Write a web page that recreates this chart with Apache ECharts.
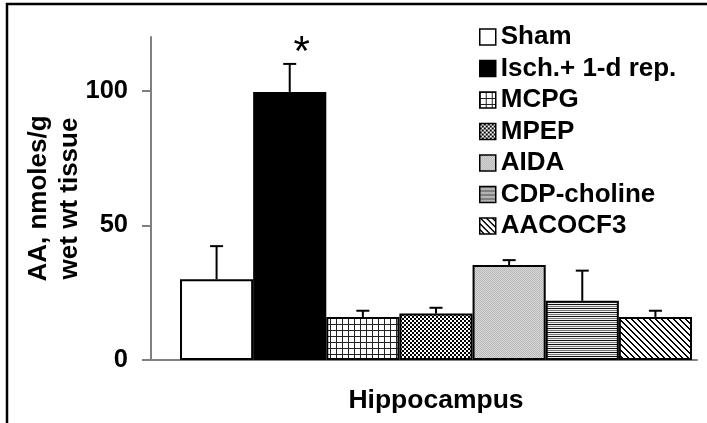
<!DOCTYPE html>
<html>
<head>
<meta charset="utf-8">
<script src="https://cdn.jsdelivr.net/npm/echarts@6/dist/echarts.min.js"></script>
<style>
html,body{margin:0;padding:0;background:#fff;}
#chart{width:707px;height:423px;}
</style>
</head>
<body>
<div id="chart"></div>
<script>
// ---- data ----
const category = ['Hippocampus'];
const groupNames = ['Sham', 'Isch.+ 1-d rep.', 'MCPG', 'MPEP', 'AIDA', 'CDP-choline', 'AACOCF3'];
const meanValues = [30, 99.6, 16, 17.3, 35.3, 22, 16];
const semValues = [12.3, 10.4, 2.3, 2.1, 1.8, 11.2, 2.3];
const significance = ['', '*', '', '', '', '', ''];
const yTicks = [0, 50, 100];
const yTitle = 'AA, nmoles/g\nwet wt tissue';

// ---- styles ----
const FONT = "'Liberation Sans', Arial, sans-serif";
const GAP = 0.0554;

function makePattern(size, draw) {
  const c = document.createElement('canvas');
  c.width = size; c.height = size;
  const ctx = c.getContext('2d');
  draw(ctx, size);
  return { image: c, repeat: 'repeat' };
}
function px(ctx, x, y, col) { ctx.fillStyle = col; ctx.fillRect(x, y, 1, 1); }

const fills = [
  '#ffffff',
  '#000000',
  makePattern(6, (ctx, s) => { // grid
    ctx.fillStyle = '#fff'; ctx.fillRect(0, 0, s, s);
    ctx.fillStyle = '#222'; ctx.fillRect(0, 0, s, 1); ctx.fillRect(0, 0, 1, s);
  }),
  makePattern(4, (ctx, s) => { // checkerboard
    ctx.fillStyle = '#fff'; ctx.fillRect(0, 0, s, s);
    ctx.fillStyle = '#000'; ctx.fillRect(0, 0, 2, 2); ctx.fillRect(2, 2, 2, 2);
  }),
  makePattern(4, (ctx, s) => { // light gray stipple
    ctx.fillStyle = '#d8d8d8'; ctx.fillRect(0, 0, s, s);
    for (let y = 0; y < s; y++) for (let x = 0; x < s; x++) if ((x + y) % 2 === 0) px(ctx, x, y, '#b8b8b8');
  }),
  makePattern(4, (ctx, s) => { // horizontal lines
    ctx.fillStyle = '#f0f0f0'; ctx.fillRect(0, 0, s, s);
    ctx.fillStyle = '#111'; ctx.fillRect(0, 0, s, 1);
    ctx.fillStyle = '#777'; ctx.fillRect(0, 2, s, 1);
  }),
  makePattern(6, (ctx, s) => { // diagonal "\" lines
    ctx.fillStyle = '#fff'; ctx.fillRect(0, 0, s, s);
    for (let y = 0; y < s; y++) for (let x = 0; x < s; x++) if (((x - y + s) % s) < 2) px(ctx, x, y, '#000');
  })
];

const chart = echarts.init(document.getElementById('chart'), null, { renderer: 'canvas' });

const barSeries = groupNames.map((name, i) => ({
  name: name,
  type: 'bar',
  xAxisIndex: 0, yAxisIndex: 0,
  barGap: '0%',
  barCategoryGap: (GAP * 100) + '%',
  data: [meanValues[i]],
  itemStyle: { color: fills[i], borderColor: '#000', borderWidth: 2 },
  emphasis: { disabled: true },
  animation: false,
  z: 2
}));

const errSeries = {
  name: 'errors',
  type: 'custom',
  xAxisIndex: 0, yAxisIndex: 0,
  data: meanValues.map((v, i) => [0, v, v + semValues[i]]),
  encode: { x: 0, y: [1, 2] },
  z: 5,
  animation: false,
  silent: true,
  renderItem: function (params, api) {
    const i = params.dataIndex;
    const n = groupNames.length;
    const base = api.coord([0, 0]);
    const band = api.size([1, 0])[0];
    const barW = band * (1 - GAP) / n;
    const cx = base[0] + (i - (n - 1) / 2) * barW;
    const top = api.coord([0, api.value(1)])[1];
    const errTop = api.coord([0, api.value(2)])[1];
    const children = [
      { type: 'line', shape: { x1: cx, y1: top, x2: cx, y2: errTop }, style: { stroke: '#000', lineWidth: 2 } },
      { type: 'line', shape: { x1: cx - 6.5, y1: errTop, x2: cx + 6.5, y2: errTop }, style: { stroke: '#000', lineWidth: 2 } }
    ];
    if (significance[i]) {
      children.push({
        type: 'text',
        x: cx + 12, y: errTop - 10,
        style: { text: significance[i], font: "normal 42px " + FONT, fill: '#000', align: 'center', verticalAlign: 'middle' }
      });
    }
    return { type: 'group', children: children };
  }
};

const option = {
  backgroundColor: '#ffffff',
  animation: false,
  grid: [
    { left: 165, right: 0, top: 37, bottom: 63 },
    { left: 151, right: 10, top: 37, bottom: 63 }
  ],
  legend: {
    data: groupNames,
    orient: 'vertical',
    left: 474, top: 19,
    itemWidth: 16, itemHeight: 16,
    itemGap: 5.5,
    icon: 'rect',
    selectedMode: false,
    itemStyle: { borderColor: '#000', borderWidth: 1.5 },
    textStyle: { fontFamily: FONT, fontWeight: 'bold', fontSize: 26, lineHeight: 26, color: '#000' }
  },
  xAxis: [
    {
      type: 'category', gridIndex: 0, data: category,
      axisLine: { show: false }, axisTick: { show: false },
      axisLabel: { show: true, margin: 27, fontFamily: FONT, fontWeight: 'bold', fontSize: 26.5, color: '#000' },
      splitLine: { show: false }
    },
    {
      type: 'category', gridIndex: 1, data: [''],
      axisLine: { show: true, lineStyle: { color: '#808080', width: 2 } },
      axisTick: { show: false }, axisLabel: { show: false }, splitLine: { show: false }
    }
  ],
  yAxis: [
    {
      type: 'value', gridIndex: 0, min: 0, max: 120, interval: 50, offset: 14,
      name: yTitle, nameLocation: 'middle', nameGap: 66, nameRotate: 90, nameMoveOverlap: false,
      nameTextStyle: { fontFamily: FONT, fontWeight: 'bold', fontSize: 26, lineHeight: 31, color: '#000', align: 'center' },
      axisLine: { show: true, lineStyle: { color: '#808080', width: 2 } },
      axisTick: { show: true, length: 9, lineStyle: { color: '#808080', width: 2 }, customValues: yTicks },
      axisLabel: { margin: 23, fontFamily: FONT, fontWeight: 'bold', fontSize: 25.5, color: '#000', customValues: yTicks },
      splitLine: { show: false }
    },
    { type: 'value', gridIndex: 1, show: false, min: 0, max: 120 }
  ],
  graphic: [
    { type: 'rect', shape: { x: 7, y: 4, width: 800, height: 500 }, style: { fill: 'none', stroke: '#000', lineWidth: 2.5 }, silent: true, z: 100 }
  ],
  series: barSeries.concat([errSeries])
};

chart.setOption(option);
</script>
</body>
</html>
